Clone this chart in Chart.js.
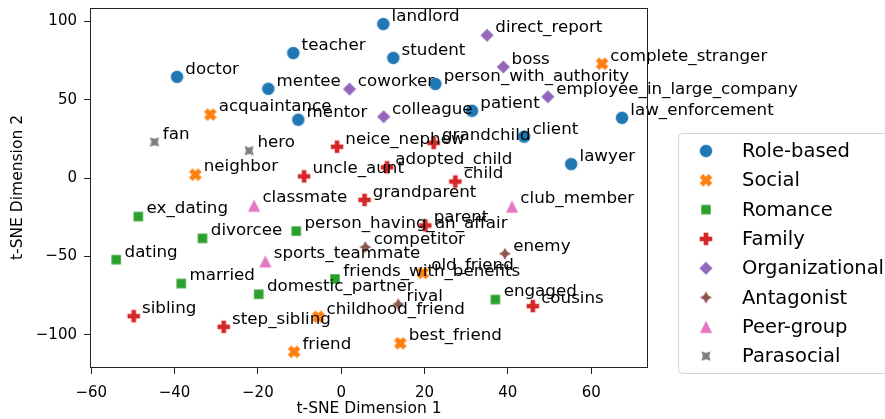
<!DOCTYPE html>
<html>
<head>
<meta charset="utf-8">
<script src="https://cdn.jsdelivr.net/npm/chart.js@4/dist/chart.umd.min.js"></script>
<style>
  html, body { margin: 0; padding: 0; background: #fff; }
  #wrap { width: 885px; height: 419px; }
</style>
</head>
<body>
<div id="wrap"><canvas id="tsne" width="885" height="419"></canvas></div>
<script>
// categories and their points
const categories = ['Role-based', 'Social', 'Romance', 'Family', 'Organizational', 'Antagonist', 'Peer-group', 'Parasocial'];
const colors = ['#1f77b4', '#ff7f0e', '#2ca02c', '#d62728', '#9467bd', '#8c564b', '#e377c2', '#7f7f7f'];
const markers = ['circle', 'x', 'square', 'plus', 'diamond', 'star', 'triangle', 'starRot'];

const roleNames = ['doctor', 'teacher', 'landlord', 'student', 'mentee', 'mentor', 'person_with_authority', 'patient', 'client', 'lawyer', 'law_enforcement'];
const roleX = [-39.4, -11.5, 10.1, 12.5, -17.5, -10.3, 22.6, 31.4, 43.9, 55.2, 67.4];
const roleY = [64.5, 79.7, 98.2, 76.6, 56.9, 37.2, 60.0, 42.9, 26.4, 8.9, 38.4];

const socialNames = ['complete_stranger', 'acquaintance', 'neighbor', 'old_friend', 'childhood_friend', 'friend', 'best_friend'];
const socialX = [62.6, -31.4, -35.0, 19.6, -5.5, -11.3, 14.2];
const socialY = [72.9, 40.5, 2.2, -60.5, -88.4, -110.7, -105.3];

const romanceNames = ['ex_dating', 'divorcee', 'dating', 'married', 'domestic_partner', 'person_having_an_affair', 'friends_with_benefits', 'engaged'];
const romanceX = [-48.7, -33.3, -54.0, -38.4, -19.8, -10.8, -1.5, 37.0];
const romanceY = [-24.5, -38.4, -52.0, -67.2, -74.0, -33.8, -64.3, -77.4];

const familyNames = ['neice_nephew', 'grandchild', 'uncle_aunt', 'adopted_child', 'child', 'grandparent', 'parent', 'cousins', 'sibling', 'step_sibling'];
const familyX = [-1.0, 22.2, -8.9, 11.0, 27.4, 5.6, 20.2, 46.0, -49.8, -28.2];
const familyY = [20.0, 22.4, 1.1, 6.9, -2.2, -13.9, -30.2, -81.6, -88.0, -94.8];

const orgNames = ['direct_report', 'boss', 'coworker', 'colleague', 'employee_in_large_company'];
const orgX = [35.0, 38.9, 2.0, 10.2, 49.6];
const orgY = [91.0, 70.8, 56.7, 39.1, 51.8];

const antagonistNames = ['competitor', 'enemy', 'rival'];
const antagonistX = [5.8, 39.3, 13.7];
const antagonistY = [-44.0, -48.2, -80.4];

const peerNames = ['classmate', 'sports_teammate', 'club_member'];
const peerX = [-20.9, -18.2, 41.0];
const peerY = [-17.5, -53.0, -18.1];

const paraNames = ['fan', 'hero'];
const paraX = [-44.8, -22.1];
const paraY = [23.0, 17.5];

const xTicks = [-60, -40, -20, 0, 20, 40, 60];
const yTicks = [-100, -50, 0, 50, 100];

const groupNames = [roleNames, socialNames, romanceNames, familyNames, orgNames, antagonistNames, peerNames, paraNames];
const groupX = [roleX, socialX, romanceX, familyX, orgX, antagonistX, peerX, paraX];
const groupY = [roleY, socialY, romanceY, familyY, orgY, antagonistY, peerY, paraY];

const FONT = "'DejaVu Sans', 'Liberation Sans', sans-serif";

// draw one matplotlib-like marker into a small canvas
function makeMarker(kind, color) {
  const S = 18;
  const c = document.createElement('canvas');
  c.width = S; c.height = S;
  const g = c.getContext('2d');
  g.translate(S / 2, S / 2);
  g.fillStyle = color;
  g.strokeStyle = 'rgba(255,255,255,0.9)';
  g.lineWidth = 0.6;
  g.beginPath();
  if (kind === 'circle') {
    g.arc(0, 0, 6.5, 0, Math.PI * 2);
  } else if (kind === 'square') {
    g.rect(-5, -5, 10, 10);
  } else if (kind === 'diamond') {
    g.moveTo(0, -6.8); g.lineTo(6.8, 0); g.lineTo(0, 6.8); g.lineTo(-6.8, 0);
  } else if (kind === 'triangle') {
    g.moveTo(0, -6.5); g.lineTo(6.5, 6.5); g.lineTo(-6.5, 6.5);
  } else if (kind === 'plus' || kind === 'x') {
    const s = 13;
    const pts = [[-1, -0.4], [-1, 0.4], [-0.4, 0.4], [-0.4, 1], [0.4, 1], [0.4, 0.4],
      [1, 0.4], [1, -0.4], [0.4, -0.4], [0.4, -1], [-0.4, -1], [-0.4, -0.4]];
    const a = kind === 'x' ? Math.PI / 4 : 0;
    const k = kind === 'x' ? s / 2 * 1.02 : s / 2;
    pts.forEach(([px, py], i) => {
      const rx = (px * Math.cos(a) - py * Math.sin(a)) * k;
      const ry = (px * Math.sin(a) + py * Math.cos(a)) * k;
      if (i === 0) g.moveTo(rx, ry); else g.lineTo(rx, ry);
    });
  } else if (kind === 'star' || kind === 'starRot') {
    const R = kind === 'star' ? 6.5 : 7;
    const r = R * 0.5;
    const off = kind === 'star' ? -Math.PI / 2 : -Math.PI / 4;
    for (let i = 0; i < 8; i++) {
      const ang = off + i * Math.PI / 4;
      const rad = i % 2 === 0 ? R : r;
      const px = Math.cos(ang) * rad, py = Math.sin(ang) * rad;
      if (i === 0) g.moveTo(px, py); else g.lineTo(px, py);
    }
  }
  g.closePath();
  g.fill();
  g.stroke();
  return c;
}

const markerImgs = categories.map((_, i) => makeMarker(markers[i], colors[i]));

const datasets = categories.map((cat, i) => ({
  label: cat,
  data: groupX[i].map((x, j) => ({ x, y: groupY[i][j] })),
  pointStyle: markerImgs[i],
  backgroundColor: colors[i],
  borderColor: colors[i],
  pointRadius: 7,
  pointHoverRadius: 7,
}));

const frameAndLabels = {
  id: 'frameAndLabels',
  afterDatasetsDraw(chart) {
    const { ctx, chartArea: a, scales } = chart;
    ctx.save();
    // point labels, offset by (+2, +2) in data units
    ctx.font = '16.7px ' + FONT;
    ctx.fillStyle = '#000';
    ctx.textAlign = 'left';
    ctx.textBaseline = 'alphabetic';
    groupNames.forEach((names, i) => {
      names.forEach((name, j) => {
        const px = scales.x.getPixelForValue(groupX[i][j] + 2);
        const py = scales.y.getPixelForValue(groupY[i][j] + 2);
        ctx.fillText(name, px, py);
      });
    });
    // axes box
    ctx.strokeStyle = '#222';
    ctx.lineWidth = 1;
    ctx.strokeRect(Math.round(a.left) - 0.5, Math.round(a.top) + 0.5,
      Math.round(a.right - a.left) + 1, Math.round(a.bottom - a.top));
    ctx.restore();
  },
  afterDraw(chart) {
    const { ctx } = chart;
    ctx.save();
    const bx = 678.5, by = 133.5, bw = 230, bh = 240, r = 4;
    ctx.beginPath();
    ctx.moveTo(bx + r, by);
    ctx.lineTo(bx + bw - r, by);
    ctx.arcTo(bx + bw, by, bx + bw, by + r, r);
    ctx.lineTo(bx + bw, by + bh - r);
    ctx.arcTo(bx + bw, by + bh, bx + bw - r, by + bh, r);
    ctx.lineTo(bx + r, by + bh);
    ctx.arcTo(bx, by + bh, bx, by + bh - r, r);
    ctx.lineTo(bx, by + r);
    ctx.arcTo(bx, by, bx + r, by, r);
    ctx.closePath();
    ctx.fillStyle = 'rgba(255,255,255,0.85)';
    ctx.fill();
    ctx.strokeStyle = '#d4d4d4';
    ctx.stroke();
    ctx.font = '19.5px ' + FONT;
    ctx.fillStyle = '#000';
    ctx.textBaseline = 'middle';
    categories.forEach((cat, i) => {
      const cy = 151 + i * 29.3;
      const img = markerImgs[i];
      ctx.drawImage(img, 706 - img.width / 2, cy - img.height / 2);
      ctx.fillText(cat, 742, cy + 1);
    });
    ctx.restore();
  },
};

const minus = (v) => (v < 0 ? '\u2212' + Math.abs(v) : String(v));

new Chart(document.getElementById('tsne'), {
  type: 'scatter',
  data: { datasets },
  options: {
    responsive: false,
    animation: false,
    devicePixelRatio: 1,
    layout: { padding: { top: 6, right: 238, left: 0, bottom: 0 } },
    plugins: { legend: { display: false }, tooltip: { enabled: false } },
    scales: {
      x: {
        type: 'linear',
        min: -60.05,
        max: 73.4,
        afterBuildTicks: (s) => { s.ticks = xTicks.map((v) => ({ value: v })); },
        afterFit: (s) => { s.height = 52; s.paddingLeft = 0; s.paddingRight = 0; },
        grid: { display: true, drawOnChartArea: false, drawTicks: true, tickLength: 7, color: '#222' },
        border: { display: false },
        ticks: { color: '#000', font: { family: FONT, size: 15 }, padding: 10, maxRotation: 0, callback: minus },
        title: { display: true, text: 't-SNE Dimension 1', color: '#000', font: { family: FONT, size: 15.5 }, padding: { top: 0, bottom: 1 } },
      },
      y: {
        type: 'linear',
        min: -120.4,
        max: 108.4,
        afterBuildTicks: (s) => { s.ticks = yTicks.map((v) => ({ value: v })); },
        afterFit: (s) => { s.width = 91; s.paddingTop = 0; s.paddingBottom = 0; },
        grid: { display: true, drawOnChartArea: false, drawTicks: true, tickLength: 7, color: '#222' },
        border: { display: false },
        ticks: { color: '#000', font: { family: FONT, size: 15 }, padding: 7, callback: minus },
        title: { display: true, text: 't-SNE Dimension 2', color: '#000', font: { family: FONT, size: 15.5 }, padding: { top: 9, bottom: 0 } },
      },
    },
  },
  plugins: [frameAndLabels],
});
</script>
</body>
</html>
